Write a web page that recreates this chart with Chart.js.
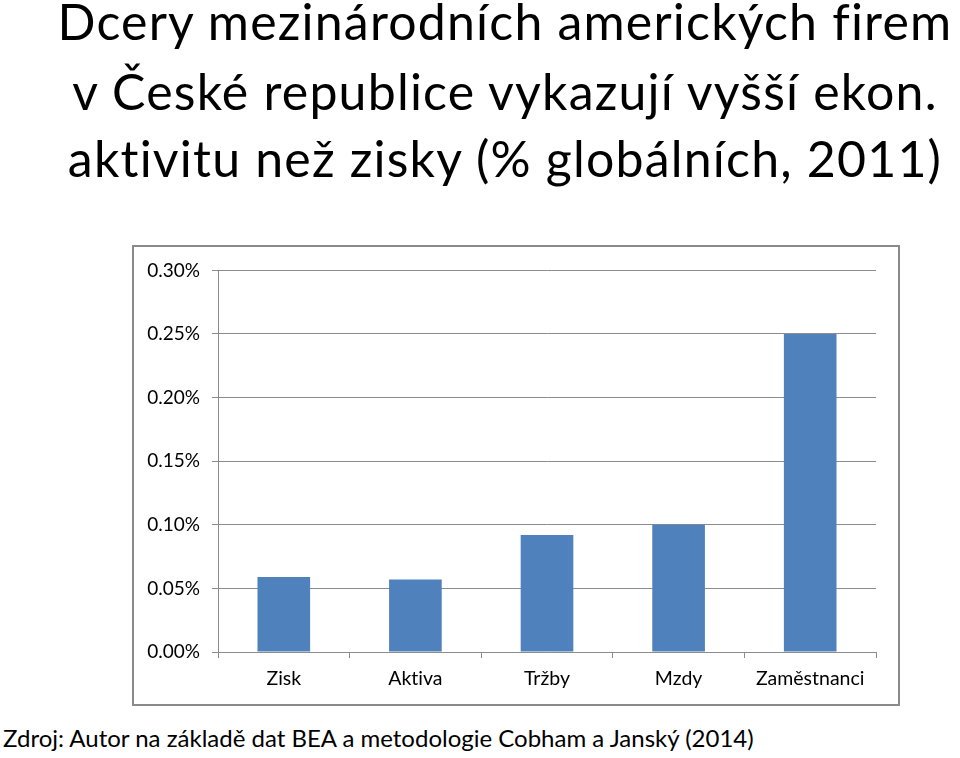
<!DOCTYPE html>
<html>
<head>
<meta charset="utf-8">
<script src="https://cdn.jsdelivr.net/npm/chart.js@4"></script>
<style>
  body { margin: 0; width: 960px; height: 758px; overflow: hidden; background: #fff; font-family: "Lato", sans-serif; color: #000; font-variant-ligatures: none; }
  .tl { position: absolute; left: 0; width: 1010px; text-align: center; font-size: 50px; line-height: 50px; letter-spacing: 1.2px; white-space: nowrap; }
  #src { position: absolute; left: 3px; top: 726px; font-size: 24px; line-height: 24px; white-space: nowrap; }
  #box { position: absolute; left: 132px; top: 245px; width: 764px; height: 457px; border: 2px solid #8a8a8a; }
</style>
</head>
<body>
<div class="tl" style="top:-4px">Dcery mezinárodních amerických firem</div>
<div class="tl" style="top:66px">v České republice vykazují vyšší ekon.</div>
<div class="tl" style="top:133px">aktivitu než zisky (% globálních, 2011)</div>
<div id="box"><canvas id="chart" width="764" height="457"></canvas></div>
<div id="src">Zdroj: Autor na základě dat BEA a metodologie Cobham a Janský (2014)</div>
<script>
// podíl amerických dcer v ČR na globálních hodnotách (%)
const categories = ['Zisk', 'Aktiva', 'Tržby', 'Mzdy', 'Zaměstnanci'];
const shares = [0.059, 0.057, 0.092, 0.100, 0.250];
const yTicks = [0, 0.05, 0.10, 0.15, 0.20, 0.25, 0.30];

const gridGray = '#8c8c8c';

const ctx = document.getElementById('chart').getContext('2d');
new Chart(ctx, {
    type: 'bar',
    data: {
        labels: categories,
        datasets: [{
            data: shares,
            backgroundColor: '#4f81bd',
            barPercentage: 0.4,
            categoryPercentage: 1.0
        }]
    },
    options: {
        responsive: false,
        animation: false,
        layout: { padding: { top: 21, right: 22, left: 0, bottom: 0 } },
        plugins: { legend: { display: false }, tooltip: { enabled: false } },
        scales: {
            x: {
                grid: { offset: true, drawOnChartArea: false, drawTicks: true, tickLength: 6, color: gridGray },
                border: { color: gridGray },
                ticks: { font: { family: 'Lato', size: 19.5 }, color: '#000', padding: 9 },
                afterFit: scale => { scale.height = 52; }
            },
            y: {
                min: yTicks[0],
                max: yTicks[yTicks.length - 1],
                afterBuildTicks: scale => { scale.ticks = yTicks.map(v => ({ value: v })); },
                grid: { color: gridGray, tickLength: 6 },
                border: { color: gridGray },
                ticks: { font: { family: 'Lato', size: 19 }, color: '#000', padding: 12, callback: v => v.toFixed(2) + '%' },
                afterFit: scale => { scale.width = 84; }
            }
        }
    }
});
</script>
</body>
</html>
